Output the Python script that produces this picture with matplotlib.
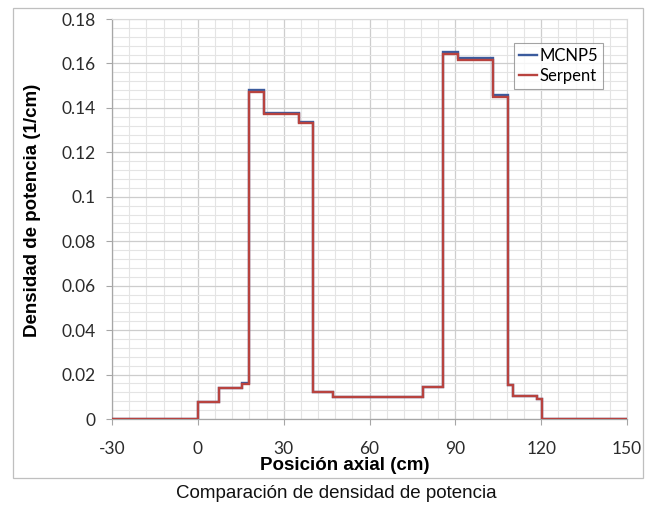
import matplotlib
matplotlib.use("Agg")
import matplotlib.pyplot as plt
from matplotlib.ticker import MultipleLocator, FuncFormatter
from matplotlib.patches import Rectangle

# Axial bin edges (cm) and power density per bin (1/cm)
edges = [-30, 0, 7.5, 15.4, 18, 23, 35.5, 40.3, 47.2, 78.6, 85.6,
         90.9, 103, 108.4, 110.2, 118.6, 120.4, 150]
mcnp5 = [0, 0.0076, 0.0140, 0.0160, 0.1480, 0.1378, 0.1336, 0.0122, 0.0100,
         0.0145, 0.1653, 0.1623, 0.1457, 0.0153, 0.0105, 0.0090, 0]
serpent = [0, 0.0075, 0.0138, 0.0158, 0.1472, 0.1372, 0.1332, 0.0121, 0.0099,
           0.0143, 0.1644, 0.1614, 0.1447, 0.0151, 0.0104, 0.0089, 0]

x_ticks = [-30, 0, 30, 60, 90, 120, 150]
y_ticks = [0, 0.02, 0.04, 0.06, 0.08, 0.1, 0.12, 0.14, 0.16, 0.18]

W, H = 656, 512
fig = plt.figure(figsize=(W / 100, H / 100), dpi=100)
ax = fig.add_axes([112 / W, 1 - 419 / H, (627 - 112) / W, (419 - 19) / H])

tick_font = "Lato"
label_font = "Liberation Sans"

ax.stairs(mcnp5, edges, color="#3b5b9d", lw=1.7, label="MCNP5", zorder=3)
ax.stairs(serpent, edges, color="#b8433f", lw=1.7, label="Serpent", zorder=4)

ax.set_xlim(-30, 150)
ax.set_ylim(0, 0.18)
ax.set_xticks(x_ticks)
ax.set_yticks(y_ticks)
ax.xaxis.set_minor_locator(MultipleLocator(6))
ax.yaxis.set_minor_locator(MultipleLocator(0.004))
ax.yaxis.set_major_formatter(FuncFormatter(lambda v, p: f"{v:g}"))
ax.xaxis.set_major_formatter(FuncFormatter(lambda v, p: f"{v:g}"))

ax.grid(which="major", color="#cdcdcd", lw=0.9, zorder=0)
ax.grid(which="minor", color="#e4e4e4", lw=0.8, zorder=0)
ax.set_axisbelow(True)

for side in ("top", "right"):
    ax.spines[side].set_color("#d9d9d9")
    ax.spines[side].set_linewidth(0.8)
for side in ("left", "bottom"):
    ax.spines[side].set_color("#a6a6a6")
    ax.spines[side].set_linewidth(0.9)

ax.tick_params(which="major", length=4, color="#a6a6a6", labelcolor="#2b2b2b",
               labelsize=12.5)
ax.tick_params(axis="x", which="major", pad=12)
ax.tick_params(axis="y", which="major", pad=8)
ax.tick_params(which="minor", length=0)
for lab in ax.get_xticklabels() + ax.get_yticklabels():
    lab.set_fontfamily(tick_font)

ax.set_ylabel("Densidad de potencia (1/cm)", fontsize=13.5, fontweight="bold",
              fontfamily=label_font)
ax.set_xlabel("Posición axial (cm)", fontsize=13.5, fontweight="bold",
              fontfamily=label_font)
ax.yaxis.set_label_coords((41 - 112) / 515, (419 - 210) / 400)
ax.xaxis.set_label_coords((345 - 112) / 515, (419 - 457) / 400)

leg = ax.legend(loc="upper right", bbox_to_anchor=((603 - 112) / (627 - 112), (419 - 43) / 400),
                frameon=True, fancybox=False, handlelength=1.1, handletextpad=0.15,
                borderpad=0.3, labelspacing=0.25, borderaxespad=0,
                prop={"family": tick_font, "size": 12})
leg.get_frame().set_edgecolor("#8c8c8c")
leg.get_frame().set_linewidth(0.8)

# Chart area frame
fig.patches.append(Rectangle((13 / W, 1 - 478 / H), (643 - 13) / W, (478 - 8) / H,
                             transform=fig.transFigure, fill=False,
                             edgecolor="#bfbfbf", lw=0.9))

fig.text(336 / W, 1 - 494 / H, "Comparación de densidad de potencia",
         ha="center", va="center", fontsize=13.5, fontfamily=label_font, color="#111111")

fig.savefig("out.png", dpi=100)
